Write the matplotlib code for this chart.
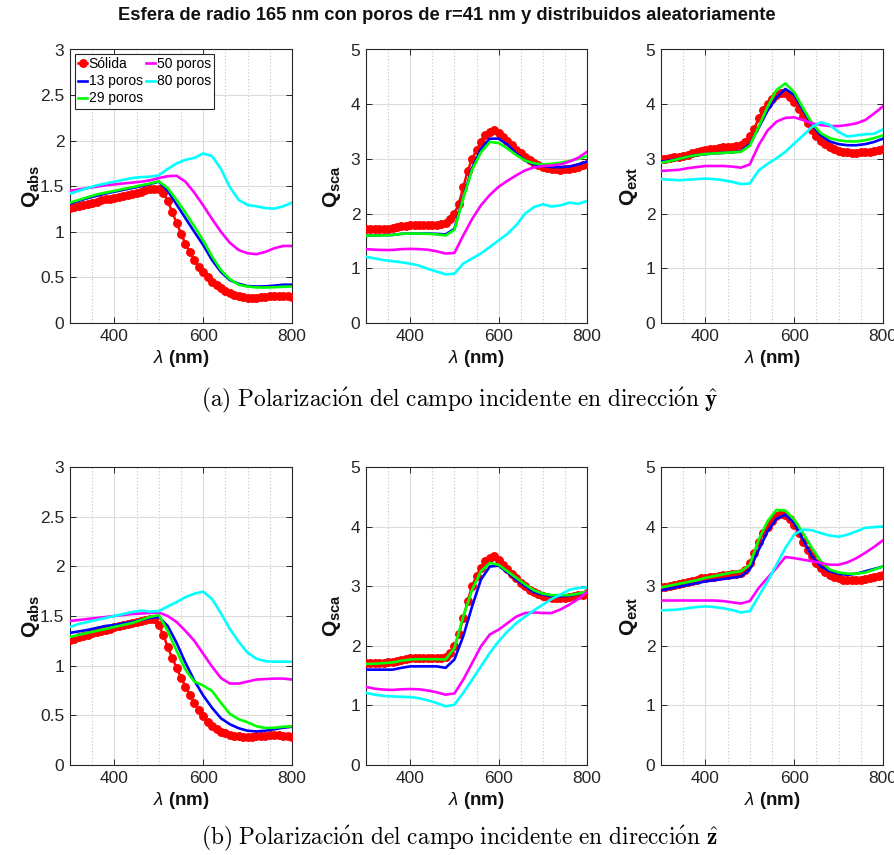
import matplotlib
matplotlib.use("Agg")
import matplotlib.pyplot as plt
from matplotlib import ticker

plt.rcParams['font.family'] = ['Liberation Sans', 'DejaVu Sans']
plt.rcParams['mathtext.fontset'] = 'custom'
plt.rcParams['mathtext.rm'] = 'Liberation Sans'
plt.rcParams['mathtext.it'] = 'Liberation Sans:italic'
plt.rcParams['mathtext.bf'] = 'Liberation Sans:bold'

# ---------------- data ----------------
wl10 = list(range(300, 801, 10))   # wavelengths (nm) of the solid-sphere series
wl20 = list(range(300, 801, 20))   # wavelengths (nm) of the porous series

labels = ['Sólida', '13 poros', '29 poros', '50 poros', '80 poros']

# (a) polarization y
abs_y_solid = [1.26, 1.27, 1.28, 1.295, 1.31, 1.32, 1.33, 1.345, 1.355, 1.365,
               1.375, 1.385, 1.395, 1.405, 1.415, 1.425, 1.44, 1.455, 1.465, 1.475,
               1.47, 1.43, 1.34, 1.22, 1.10, 0.98, 0.87, 0.775, 0.69, 0.615,
               0.555, 0.50, 0.455, 0.415, 0.38, 0.35, 0.325, 0.31, 0.295, 0.285,
               0.278, 0.274, 0.275, 0.28, 0.288, 0.295, 0.30, 0.30, 0.297, 0.293,
               0.29]
abs_y_13 = [1.31, 1.34, 1.37, 1.395, 1.42, 1.44, 1.46, 1.48, 1.50, 1.525, 1.55, 1.45, 1.30,
            1.15, 1.00, 0.855, 0.69, 0.56, 0.47, 0.43, 0.405, 0.40, 0.402, 0.41, 0.42, 0.42]
abs_y_29 = [1.32, 1.35, 1.38, 1.41, 1.43, 1.45, 1.47, 1.49, 1.51, 1.53, 1.555, 1.48, 1.35,
            1.21, 1.06, 0.905, 0.73, 0.58, 0.48, 0.42, 0.40, 0.39, 0.39, 0.392, 0.398, 0.40]
abs_y_50 = [1.45, 1.465, 1.48, 1.495, 1.51, 1.52, 1.53, 1.54, 1.55, 1.565, 1.59, 1.61, 1.615,
            1.55, 1.43, 1.29, 1.14, 1.00, 0.88, 0.80, 0.765, 0.755, 0.78, 0.82, 0.845, 0.845]
abs_y_80 = [1.42, 1.45, 1.48, 1.51, 1.53, 1.55, 1.57, 1.59, 1.60, 1.605, 1.62, 1.69, 1.75,
            1.79, 1.81, 1.86, 1.83, 1.69, 1.49, 1.35, 1.295, 1.28, 1.26, 1.255, 1.28, 1.32]

sca_y_solid = [1.71, 1.71, 1.71, 1.71, 1.715, 1.72, 1.73, 1.75, 1.77, 1.78,
               1.785, 1.79, 1.79, 1.79, 1.79, 1.79, 1.80, 1.81, 1.83, 1.90,
               2.0, 2.18, 2.48, 2.78, 3.0, 3.16, 3.31, 3.43, 3.5, 3.52,
               3.47, 3.40, 3.32, 3.25, 3.17, 3.10, 3.04, 2.98, 2.93, 2.88,
               2.85, 2.835, 2.82, 2.81, 2.805, 2.81, 2.82, 2.84, 2.86, 2.88,
               2.90]
sca_y_13 = [1.60, 1.60, 1.605, 1.61, 1.63, 1.635, 1.635, 1.635, 1.63, 1.62, 1.72, 2.30, 2.83,
            3.18, 3.37, 3.37, 3.26, 3.10, 2.97, 2.90, 2.87, 2.85, 2.85, 2.86, 2.90, 2.95]
sca_y_29 = [1.60, 1.60, 1.60, 1.61, 1.63, 1.635, 1.635, 1.63, 1.62, 1.60, 1.70, 2.28, 2.80,
            3.12, 3.31, 3.29, 3.19, 3.07, 2.97, 2.92, 2.90, 2.91, 2.93, 2.96, 3.0, 3.05]
sca_y_50 = [1.35, 1.34, 1.335, 1.335, 1.35, 1.355, 1.35, 1.34, 1.31, 1.27, 1.28, 1.60, 1.90,
            2.15, 2.34, 2.49, 2.60, 2.70, 2.79, 2.845, 2.87, 2.88, 2.90, 2.95, 3.02, 3.13]
sca_y_80 = [1.21, 1.18, 1.15, 1.13, 1.11, 1.085, 1.05, 0.99, 0.94, 0.89, 0.90, 1.085, 1.18,
            1.27, 1.39, 1.51, 1.63, 1.79, 2.0, 2.12, 2.17, 2.13, 2.15, 2.20, 2.18, 2.23]

ext_y_solid = [2.99, 3.0, 3.02, 3.03, 3.04, 3.06, 3.08, 3.11, 3.13, 3.15,
               3.17, 3.18, 3.19, 3.20, 3.21, 3.215, 3.22, 3.23, 3.26, 3.31,
               3.41, 3.555, 3.74, 3.89, 4.01, 4.10, 4.16, 4.21, 4.20, 4.13,
               4.04, 3.92, 3.78, 3.65, 3.52, 3.41, 3.33, 3.27, 3.22, 3.18,
               3.15, 3.13, 3.12, 3.11, 3.11, 3.12, 3.12, 3.13, 3.15, 3.16,
               3.18]
ext_y_13 = [2.95, 2.97, 3.0, 3.04, 3.07, 3.085, 3.10, 3.11, 3.12, 3.14, 3.27, 3.57, 3.88,
            4.12, 4.28, 4.17, 3.89, 3.62, 3.43, 3.32, 3.27, 3.25, 3.25, 3.27, 3.31, 3.37]
ext_y_29 = [2.93, 2.96, 3.0, 3.04, 3.07, 3.09, 3.10, 3.11, 3.12, 3.13, 3.24, 3.59, 3.95,
            4.26, 4.38, 4.22, 3.93, 3.65, 3.47, 3.38, 3.34, 3.32, 3.32, 3.34, 3.38, 3.43]
ext_y_50 = [2.78, 2.79, 2.80, 2.83, 2.85, 2.87, 2.87, 2.87, 2.86, 2.84, 2.90, 3.25, 3.52,
            3.68, 3.75, 3.76, 3.71, 3.65, 3.62, 3.60, 3.60, 3.62, 3.65, 3.71, 3.83, 3.96]
ext_y_80 = [2.63, 2.62, 2.61, 2.62, 2.63, 2.64, 2.63, 2.61, 2.58, 2.54, 2.55, 2.79, 2.91,
            3.01, 3.13, 3.28, 3.43, 3.585, 3.67, 3.62, 3.49, 3.41, 3.43, 3.45, 3.46, 3.54]

# (b) polarization z
abs_z_solid = [1.26, 1.27, 1.285, 1.30, 1.31, 1.325, 1.335, 1.35, 1.36, 1.37,
               1.385, 1.395, 1.405, 1.415, 1.425, 1.435, 1.445, 1.455, 1.465, 1.465,
               1.41, 1.31, 1.19, 1.08, 0.98, 0.88, 0.79, 0.705, 0.62, 0.55,
               0.49, 0.435, 0.39, 0.36, 0.336, 0.318, 0.304, 0.295, 0.288, 0.285,
               0.284, 0.285, 0.287, 0.29, 0.295, 0.298, 0.30, 0.298, 0.295, 0.29,
               0.285]
abs_z_13 = [1.33, 1.345, 1.36, 1.38, 1.40, 1.41, 1.425, 1.44, 1.46, 1.48, 1.49, 1.40, 1.23,
            1.03, 0.85, 0.70, 0.575, 0.47, 0.41, 0.37, 0.345, 0.338, 0.345, 0.36, 0.375, 0.385]
abs_z_29 = [1.29, 1.31, 1.33, 1.35, 1.37, 1.39, 1.41, 1.43, 1.46, 1.49, 1.51, 1.35, 1.15,
            0.96, 0.84, 0.80, 0.745, 0.625, 0.515, 0.46, 0.43, 0.39, 0.372, 0.375, 0.385, 0.39]
abs_z_50 = [1.45, 1.46, 1.47, 1.48, 1.49, 1.50, 1.51, 1.52, 1.525, 1.53, 1.535, 1.50, 1.44,
            1.35, 1.25, 1.12, 0.99, 0.875, 0.82, 0.82, 0.84, 0.86, 0.865, 0.87, 0.87, 0.86]
abs_z_80 = [1.39, 1.42, 1.44, 1.46, 1.48, 1.50, 1.52, 1.54, 1.555, 1.545, 1.55, 1.595, 1.64,
            1.69, 1.725, 1.745, 1.67, 1.527, 1.37, 1.24, 1.13, 1.07, 1.045, 1.04, 1.04, 1.04]

sca_z_solid = [1.71, 1.71, 1.71, 1.71, 1.715, 1.72, 1.72, 1.745, 1.77, 1.785,
               1.795, 1.80, 1.80, 1.80, 1.80, 1.795, 1.795, 1.80, 1.82, 1.88,
               1.99, 2.19, 2.47, 2.75, 3.0, 3.17, 3.31, 3.42, 3.48, 3.50,
               3.445, 3.36, 3.29, 3.21, 3.14, 3.06, 3.0, 2.94, 2.90, 2.87,
               2.84, 2.82, 2.81, 2.81, 2.81, 2.81, 2.82, 2.83, 2.85, 2.86,
               2.885]
sca_z_13 = [1.60, 1.60, 1.60, 1.60, 1.63, 1.655, 1.655, 1.655, 1.655, 1.63, 1.77, 2.16, 2.66,
            3.11, 3.33, 3.345, 3.23, 3.11, 3.0, 2.90, 2.86, 2.83, 2.83, 2.84, 2.87, 2.90]
sca_z_29 = [1.695, 1.70, 1.71, 1.72, 1.75, 1.77, 1.775, 1.775, 1.775, 1.77, 1.96, 2.49, 2.94,
            3.25, 3.39, 3.36, 3.25, 3.14, 3.03, 2.93, 2.875, 2.85, 2.85, 2.85, 2.875, 2.91]
sca_z_50 = [1.31, 1.28, 1.265, 1.26, 1.27, 1.275, 1.27, 1.25, 1.22, 1.18, 1.20, 1.43, 1.71,
            1.99, 2.19, 2.27, 2.38, 2.49, 2.55, 2.56, 2.55, 2.55, 2.61, 2.69, 2.785, 2.90]
sca_z_80 = [1.21, 1.18, 1.16, 1.15, 1.145, 1.14, 1.12, 1.085, 1.04, 0.985, 1.01, 1.21, 1.43,
            1.655, 1.88, 2.075, 2.24, 2.38, 2.49, 2.595, 2.69, 2.785, 2.86, 2.94, 2.97, 2.98]

ext_z_solid = [2.98, 2.99, 3.0, 3.02, 3.03, 3.05, 3.07, 3.09, 3.11, 3.13,
               3.14, 3.15, 3.16, 3.17, 3.18, 3.19, 3.20, 3.21, 3.22, 3.28,
               3.39, 3.56, 3.75, 3.89, 4.0, 4.09, 4.17, 4.21, 4.19, 4.12,
               4.02, 3.89, 3.75, 3.61, 3.50, 3.39, 3.305, 3.24, 3.19, 3.15,
               3.13, 3.11, 3.10, 3.10, 3.10, 3.11, 3.12, 3.14, 3.15, 3.165,
               3.18]
ext_z_13 = [2.93, 2.96, 2.99, 3.02, 3.05, 3.08, 3.10, 3.12, 3.14, 3.165, 3.28, 3.61, 3.92,
            4.13, 4.20, 4.06, 3.78, 3.50, 3.33, 3.25, 3.21, 3.19, 3.21, 3.25, 3.29, 3.33]
ext_z_29 = [2.98, 3.01, 3.04, 3.07, 3.10, 3.14, 3.17, 3.20, 3.23, 3.25, 3.36, 3.78, 4.09,
            4.28, 4.27, 4.12, 3.89, 3.64, 3.42, 3.28, 3.23, 3.21, 3.21, 3.23, 3.28, 3.33]
ext_z_50 = [2.76, 2.76, 2.76, 2.76, 2.76, 2.76, 2.76, 2.75, 2.73, 2.71, 2.75, 2.97, 3.14,
            3.305, 3.49, 3.47, 3.445, 3.42, 3.39, 3.36, 3.36, 3.40, 3.47, 3.56, 3.66, 3.77]
ext_z_80 = [2.595, 2.60, 2.61, 2.63, 2.65, 2.66, 2.65, 2.63, 2.60, 2.56, 2.58, 2.83, 3.08,
            3.36, 3.64, 3.865, 3.95, 3.94, 3.89, 3.85, 3.83, 3.865, 3.92, 3.98, 3.99, 4.005]

title = 'Esfera de radio 165 nm con poros de r=41 nm y distribuidos aleatoriamente'
cap_a = r'$\mathrm{(a)\ Polarizaci\acute{o}n\ del\ campo\ incidente\ en\ direcci\acute{o}n\ }\hat{\mathbf{y}}$'
cap_b = r'$\mathrm{(b)\ Polarizaci\acute{o}n\ del\ campo\ incidente\ en\ direcci\acute{o}n\ }\hat{\mathbf{z}}$'

colors = ['#ff0000', '#0000ff', '#00ff00', '#ff00ff', '#00ffff']

rows = [
    [(abs_y_solid, abs_y_13, abs_y_29, abs_y_50, abs_y_80),
     (sca_y_solid, sca_y_13, sca_y_29, sca_y_50, sca_y_80),
     (ext_y_solid, ext_y_13, ext_y_29, ext_y_50, ext_y_80)],
    [(abs_z_solid, abs_z_13, abs_z_29, abs_z_50, abs_z_80),
     (sca_z_solid, sca_z_13, sca_z_29, sca_z_50, sca_z_80),
     (ext_z_solid, ext_z_13, ext_z_29, ext_z_50, ext_z_80)],
]
ylabels = [r'$\mathbf{Q_{abs}}$', r'$\mathbf{Q_{sca}}$', r'$\mathbf{Q_{ext}}$']
ylims = [(0, 3), (0, 5), (0, 5)]
yticks = [[0, 0.5, 1, 1.5, 2, 2.5, 3], [0, 1, 2, 3, 4, 5], [0, 1, 2, 3, 4, 5]]

# ---------------- figure ----------------
W, H = 895, 855
fig = plt.figure(figsize=(W / 100, H / 100), dpi=100)

col_left = [70, 366, 661]
col_w = [222, 221, 222]
row_box = [(49.5, 323), (467, 765)]

tick_color = '#262626'
label_x = [-0.125, -0.105, -0.095]

for r in range(2):
    top, bot = row_box[r]
    for c in range(3):
        ax = fig.add_axes([col_left[c] / W, 1 - bot / H, col_w[c] / W, (bot - top) / H])
        series = rows[r][c]
        ax.plot(wl10, series[0], color=colors[0], lw=1.8, marker='o', ms=5.4,
                mec=colors[0], mfc=colors[0], label=labels[0], zorder=3)
        for k in range(1, 5):
            ax.plot(wl20, series[k], color=colors[k], lw=1.9, label=labels[k], zorder=3 + k)
        ax.set_xlim(300, 800)
        ax.set_ylim(*ylims[c])
        ax.set_xticks([400, 600, 800])
        ax.set_xticks([350, 450, 500, 550, 650, 700, 750], minor=True)
        ax.set_yticks(yticks[c])
        ax.yaxis.set_major_formatter(ticker.FormatStrFormatter('%g'))
        ax.grid(True, which='major', color='#dcdcdc', lw=0.8, ls='-')
        ax.grid(True, which='minor', axis='x', color='#c4c4c4', lw=0.8, ls=(0, (1, 2)))
        ax.set_axisbelow(True)
        ax.tick_params(which='both', direction='in', top=True, right=True,
                       colors=tick_color, labelsize=12.5, length=4, width=0.7, pad=4)
        ax.tick_params(which='minor', length=0)
        for s in ax.spines.values():
            s.set_color(tick_color)
            s.set_linewidth(0.8)
        ax.set_ylabel(ylabels[c], fontsize=15, color='#111111')
        ax.yaxis.set_label_coords(label_x[c], 0.5)
        ax.set_xlabel(r'$\lambda$ (nm)', fontsize=13.5, fontweight='bold', color='#111111',
                      labelpad=3)
        if r == 0 and c == 0:
            leg = ax.legend(ncol=2, loc='upper left', bbox_to_anchor=(0.022, 0.984),
                            borderaxespad=0, fontsize=10, handlelength=0.6,
                            handletextpad=0.15, columnspacing=0.25, labelspacing=0.22,
                            borderpad=0.25, fancybox=False, framealpha=1,
                            edgecolor='#262626', markerscale=1.0)
            leg.get_frame().set_linewidth(0.8)

fig.text(447 / W, 1 - 15 / H, title, ha='center', va='center', fontsize=13.2,
         fontweight='bold', color='#111111')
fig.text(460 / W, 1 - 400 / H, cap_a, ha='center', va='center', fontsize=16.8,
         math_fontfamily='cm', color='black')
fig.text(460 / W, 1 - 838 / H, cap_b, ha='center', va='center', fontsize=16.8,
         math_fontfamily='cm', color='black')

fig.savefig('out.png', dpi=100, facecolor='white')
